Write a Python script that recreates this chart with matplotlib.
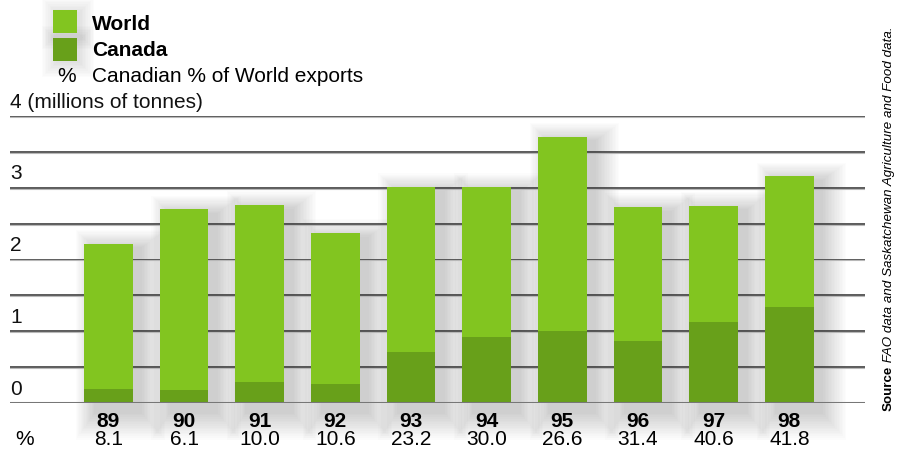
import matplotlib.pyplot as plt
from matplotlib.patches import Rectangle

years = ["89", "90", "91", "92", "93", "94", "95", "96", "97", "98"]
world = [2.22, 2.70, 2.76, 2.37, 3.01, 3.01, 3.71, 2.73, 2.75, 3.16]
canada = [0.19, 0.18, 0.29, 0.26, 0.71, 0.92, 1.00, 0.86, 1.13, 1.34]
share = ["8.1", "6.1", "10.0", "10.6", "23.2", "30.0", "26.6", "31.4", "40.6", "41.8"]
grid_levels = [0.5, 1, 1.5, 2, 2.5, 3, 3.5, 4]
tick_labels = {0: "0", 1: "1", 2: "2", 3: "3", 4: "4 (millions of tonnes)"}

c_world = "#82c520"
c_canada = "#68a01a"
fs = 15

plt.rcParams['font.family'] = ['Liberation Sans', 'DejaVu Sans']

fig = plt.figure(figsize=(9.05, 4.51), dpi=100)
ax = fig.add_axes([10 / 905, 1 - 403 / 451, 855 / 905, 287 / 451])
ax.set_xlim(-1.30, 10.0)
ax.set_ylim(0, 4)
ax.axis('off')

w = 0.64
xs = list(range(len(years)))

# soft shadow, mostly to the right of each bar
for i, h in enumerate(world):
    for k in range(16):
        s = 0.02 * k
        ax.add_patch(Rectangle((i - w / 2 + 0.13 - s * 0.8, -0.15 - s * 1.2), w + 1.8 * s,
                               h + 0.1 + s * 2.0, facecolor='black', alpha=0.012,
                               lw=0, zorder=0.5, clip_on=False))

for lv in grid_levels:
    ax.axhline(lv, color='#2e2e2e', lw=1.1, zorder=1)
    ax.axhline(lv - 0.013, color='#b8b8b8', lw=0.8, zorder=1)
ax.axhline(0, color='#777777', lw=2.2, zorder=3)

ax.bar(xs, world, width=w, color=c_world, zorder=2)
ax.bar(xs, canada, width=w, color=c_canada, zorder=2.1)

for v, lab in tick_labels.items():
    ax.text(-1.30, v + 0.06, lab, fontsize=fs, ha='left', va='bottom', color='#111111')

for i in xs:
    ax.text(i, -0.12, years[i], fontsize=fs, fontweight='bold', ha='center', va='top')
    ax.text(i, -0.38, share[i], fontsize=fs, ha='center', va='top')
ax.text(-1.23, -0.38, "%", fontsize=fs, ha='left', va='top')

# legend
for yy, col in [(10, c_world), (38, c_canada)]:
    for k in range(10):
        s = 1.6 * k
        fig.patches.append(Rectangle(((53 + 3 - s) / 905, 1 - (yy + 25 + s) / 451),
                                     (24 + 2 * s) / 905, (23 + 2 * s) / 451,
                                     transform=fig.transFigure, facecolor='black',
                                     alpha=0.012, lw=0, zorder=0))
    fig.patches.append(Rectangle((53 / 905, 1 - (yy + 23) / 451), 24 / 905, 23 / 451,
                                 transform=fig.transFigure, facecolor=col, lw=0, zorder=1))
fig.text(92 / 905, 1 - 24 / 451, "World", fontsize=fs, fontweight='bold', va='center')
fig.text(92 / 905, 1 - 51 / 451, "Canada", fontsize=fs, fontweight='bold', va='center')
fig.text(67 / 905, 1 - 77 / 451, "%", fontsize=fs, va='center', ha='center')
fig.text(92 / 905, 1 - 77 / 451, "Canadian % of World exports", fontsize=fs, va='center')

# source note
t1 = fig.text(889 / 905, 1 - 411 / 451, "Source", fontsize=9.6, fontweight='bold',
              rotation=90, ha='center', va='bottom')
ax.annotate(" FAO data and Saskatchewan Agriculture and Food data.", xy=(0.5, 1),
            xycoords=t1, fontsize=9.6, fontstyle='italic', rotation=90,
            ha='center', va='bottom')

fig.savefig("out.png", dpi=100)
